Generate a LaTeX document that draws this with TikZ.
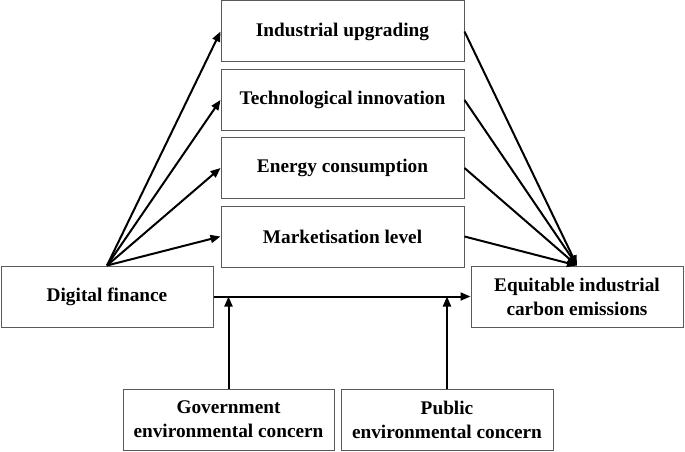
\documentclass[tikz,border=0pt]{standalone}
\usepackage{fontspec}
\setmainfont{Liberation Serif}
\usetikzlibrary{arrows.meta}
\begin{document}
\begin{tikzpicture}[x=1pt,y=-1pt,
  box/.style={draw=black!65,line width=1pt,fill=white,inner sep=0pt,
    minimum height=61pt,align=center,
    font=\fontsize{19.3}{24}\selectfont\bfseries},
  topbox/.style={box,minimum width=243pt},
  sidebox/.style={box,minimum width=212pt},
  arr/.style={line width=2pt,-{Triangle[length=10pt,width=8pt]}}]
\useasboundingbox (0,0) rectangle (685,452);
\node[topbox] (b1) at (342.5,31.5) {Industrial upgrading};
\node[topbox] (b2) at (342.5,100) {Technological innovation};
\node[topbox] (b3) at (342.5,168) {Energy consumption};
\node[topbox] (b4) at (342.5,236.5) {Marketisation level};
\node[sidebox] (df) at (107,296.5) {Digital finance};
\node[sidebox] (eq) at (577,296.5) {Equitable industrial\\carbon emissions};
\node[sidebox,minimum width=211pt] (gov) at (228.5,419.5) {Government\\environmental concern};
\node[sidebox] (pub) at (447,419.5) {Public\\environmental concern};
\foreach \b in {b1,b2,b3,b4}{
  \draw[arr] (df.north) -- (\b.west);
  \draw[arr] (\b.east) -- (eq.north);
}
\draw[arr] (df.east) -- (eq.west);
\draw[arr] (gov.north) -- (gov.north |- df.east);
\draw[arr] (pub.north) -- (pub.north |- df.east);
\end{tikzpicture}
\end{document}
